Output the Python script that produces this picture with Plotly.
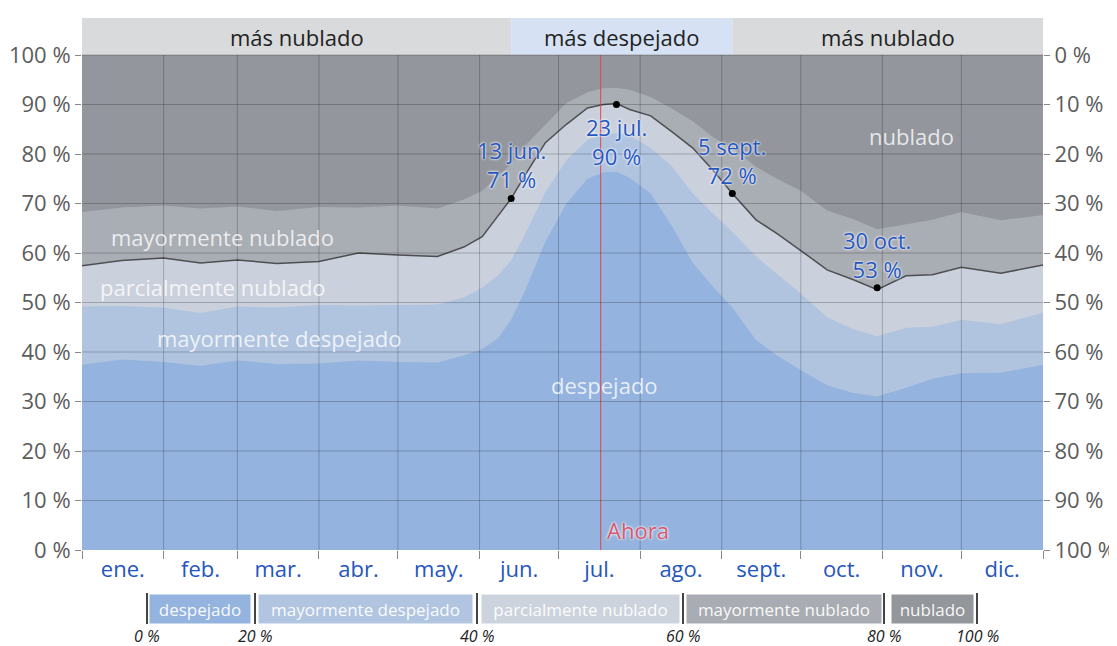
import plotly.graph_objects as go

# ---------------- data ----------------
days = [0, 15, 31, 45, 59, 74, 90, 105, 120, 135, 145, 152, 158, 163, 168, 176, 184, 192, 198, 203,
        208, 216, 224, 232, 240, 247, 256, 264, 273, 283, 293, 302, 313, 323, 334, 349, 365]

# cumulative percentages (from the bottom)
clear_top = [37.4, 38.5, 38.0, 37.2, 38.3, 37.6, 37.7, 38.3, 38.0, 37.9, 39.3, 40.6, 42.8, 46.5, 52.0, 62.3,
             70.0, 75.0, 76.3, 76.4, 75.2, 72.0, 65.5, 58.0, 53.0, 49.0, 42.4, 39.3, 36.3, 33.3, 31.7, 31.0,
             32.8, 34.6, 35.7, 35.8, 37.4]
mostly_clear_top = [49.2, 49.3, 49.0, 47.9, 49.2, 49.0, 49.5, 49.4, 49.5, 49.6, 51.0, 53.0, 55.5, 58.5, 63.5,
                    72.3, 78.8, 82.9, 84.0, 84.2, 83.8, 81.2, 77.6, 72.0, 67.8, 64.3, 59.3, 55.7, 51.8, 47.0,
                    44.6, 43.2, 44.9, 45.1, 46.5, 45.6, 48.0]
partly_cloudy_top = [57.4, 58.5, 59.0, 58.0, 58.6, 57.9, 58.3, 60.0, 59.6, 59.3, 61.2, 63.3, 67.5, 71.0, 75.5,
                     82.3, 86.0, 89.3, 90.0, 90.2, 89.0, 87.7, 84.5, 81.2, 76.5, 72.0, 66.7, 63.9, 60.5, 56.6,
                     54.6, 52.6, 55.4, 55.6, 57.1, 55.9, 57.6]
mostly_cloudy_top = [68.3, 69.2, 69.6, 69.0, 69.4, 68.5, 69.3, 69.2, 69.6, 69.0, 70.8, 72.6, 75.5, 78.0, 81.5,
                     86.0, 90.3, 92.5, 93.3, 93.4, 93.0, 91.5, 89.2, 86.6, 83.3, 81.2, 77.4, 75.0, 72.6, 68.6,
                     66.8, 64.8, 65.8, 66.7, 68.3, 66.6, 67.7]

month_starts = [0, 31, 59, 90, 120, 151, 181, 212, 243, 273, 304, 334, 365]
month_labels = ["ene.", "feb.", "mar.", "abr.", "may.", "jun.", "jul.", "ago.", "sept.", "oct.", "nov.", "dic."]

extreme_days = [163, 203, 247, 302]
extreme_vals = [71, 90, 72, 53]
extreme_labels = ["13 jun.", "23 jul.", "5 sept.", "30 oct."]

now_day = 197
clearer_season = [163, 247]

y_ticks = [0, 10, 20, 30, 40, 50, 60, 70, 80, 90, 100]
legend_names = ["despejado", "mayormente despejado", "parcialmente nublado", "mayormente nublado", "nublado"]
legend_pcts = ["0 %", "20 %", "40 %", "60 %", "80 %", "100 %"]

# ---------------- styles ----------------
FONT = "Open Sans"
FS = 22
C_OVERCAST = "#93969c"
C_MOSTLY_CLOUDY = "#a9adb4"
C_PARTLY = "#cbd1dc"
C_MOSTLY_CLEAR = "#b0c4e0"
C_CLEAR = "#94b3de"
BLUE_TXT = "#2456c0"
GLOW = "0px 0px 3px rgba(255,255,255,0.95), 0px 0px 2px rgba(255,255,255,0.95)"

# page has an 8px body margin; layout below is expressed so the plot lands
# at the reference pixel positions
PAGE_OFF = 8
PLOT_L, PLOT_R, PLOT_T, PLOT_B = 82, 1043, 55, 550

fig = go.Figure()

for vals, col in [(mostly_cloudy_top, C_MOSTLY_CLOUDY), (partly_cloudy_top, C_PARTLY),
                  (mostly_clear_top, C_MOSTLY_CLEAR), (clear_top, C_CLEAR)]:
    fig.add_trace(go.Scatter(x=days, y=vals, mode="lines", line=dict(width=0, color=col),
                             fill="tozeroy", fillcolor=col, hoverinfo="skip", showlegend=False))

fig.add_trace(go.Scatter(x=days, y=partly_cloudy_top, mode="lines",
                         line=dict(color="#4d4f53", width=1.5), showlegend=False))

fig.add_trace(go.Scatter(x=[now_day, now_day], y=[0, 100], mode="lines",
                         line=dict(color="#e0454f", width=1), showlegend=False))

fig.add_trace(go.Scatter(x=extreme_days, y=extreme_vals, mode="markers",
                         marker=dict(color="black", size=7), showlegend=False))

# invisible trace for right axis
fig.add_trace(go.Scatter(x=[0], y=[0], yaxis="y2", mode="markers",
                         marker=dict(opacity=0), showlegend=False, hoverinfo="skip"))

# grid lines drawn above the fills
shapes = []
for m in month_starts[1:-1]:
    shapes.append(dict(type="line", xref="x", yref="paper", x0=m, x1=m, y0=0, y1=1,
                       line=dict(color="rgba(0,0,0,0.22)", width=1), layer="above"))
for t in y_ticks[1:-1]:
    shapes.append(dict(type="line", xref="paper", yref="y", x0=0, x1=1, y0=t, y1=t,
                       line=dict(color="rgba(0,0,0,0.22)", width=1), layer="above"))
shapes.append(dict(type="line", xref="paper", yref="paper", x0=0, x1=1, y0=1, y1=1,
                   line=dict(color="rgba(0,0,0,0.25)", width=1), layer="above"))

# top band
band_top = 1 + 37 / 495
segments = [(month_starts[0], clearer_season[0], "#d9dadc", "más nublado"),
            (clearer_season[0], clearer_season[1], "#d6e2f3", "más despejado"),
            (clearer_season[1], month_starts[-1], "#d9dadc", "más nublado")]
annotations = []
for x0, x1, col, txt in segments:
    shapes.append(dict(type="rect", xref="x", yref="paper", x0=x0, x1=x1, y0=1, y1=band_top,
                       fillcolor=col, line=dict(width=0), layer="below"))
    annotations.append(dict(x=(x0 + x1) / 2, y=(1 + band_top) / 2, xref="x", yref="paper",
                            xanchor="center", yanchor="middle",
                            text=txt, showarrow=False, font=dict(family=FONT, size=FS, color="#222")))

# extreme annotations
offsets = [("bottom", 3), ("top", -5), ("bottom", 2), ("bottom", 2)]
for d, v, lab, (anc, ys) in zip(extreme_days, extreme_vals, extreme_labels, offsets):
    annotations.append(dict(x=d, y=v, xref="x", yref="y", text=f"{lab}<br>{v} %", showarrow=False,
                            xanchor="center", yanchor=anc, yshift=ys,
                            font=dict(family=FONT, size=FS, color=BLUE_TXT, shadow=GLOW)))

# area labels
area_labels = [("nublado", 315, 83.6), ("mayormente nublado", 53.2, 63.2),
               ("parcialmente nublado", 49.8, 53.1), ("mayormente despejado", 75.2, 42.8),
               ("despejado", 198.6, 33.3)]
for txt, ax, ay in area_labels:
    annotations.append(dict(x=ax, y=ay, xref="x", yref="y", text=txt, showarrow=False,
                            xanchor="center", yanchor="middle",
                            font=dict(family=FONT, size=FS, color="rgba(255,255,255,0.78)")))

annotations.append(dict(x=now_day, y=0, xref="x", yref="y", text="Ahora", showarrow=False,
                        xanchor="left", yanchor="bottom", xshift=4, yshift=3,
                        font=dict(family=FONT, size=FS, color="#d8566a", shadow=GLOW)))

# bottom legend
def px2paper_x(px):
    return (px - PLOT_L) / (PLOT_R - PLOT_L)

def px2paper_y(py):
    return (PLOT_B - py) / (PLOT_B - PLOT_T)

sep_px = [147, 255, 477, 683, 884, 977]
box_px = [(150, 250), (259, 472), (482, 679), (687, 881), (892, 973)]
box_cols = [C_CLEAR, "#b1c5e1", "#cdd3dd", "#a9acb2", "#93969a"]
for sx in sep_px:
    shapes.append(dict(type="line", xref="paper", yref="paper", x0=px2paper_x(sx), x1=px2paper_x(sx),
                       y0=px2paper_y(593), y1=px2paper_y(624), line=dict(color="#444", width=2)))
for (b0, b1), col, name in zip(box_px, box_cols, legend_names):
    annotations.append(dict(x=px2paper_x((b0 + b1) / 2), y=px2paper_y(609), xref="paper", yref="paper",
                            xanchor="center", yanchor="middle",
                            text=name, showarrow=False, bgcolor=col, width=b1 - b0 - 4, height=24,
                            borderpad=2, font=dict(family=FONT, size=17, color="rgba(255,255,255,0.95)")))
for sx, lab in zip(sep_px, legend_pcts):
    annotations.append(dict(x=px2paper_x(sx), y=px2paper_y(636), xref="paper", yref="paper",
                            xanchor="center", yanchor="middle",
                            text=lab, showarrow=False,
                            font=dict(family=FONT, size=16, color="#222", style="italic")))

month_mids = [(a + b) / 2 for a, b in zip(month_starts[:-1], month_starts[1:])]

W, H = 1117 - PAGE_OFF, 646 - PAGE_OFF
fig.update_layout(
    width=W, height=H, autosize=False,
    margin=dict(l=PLOT_L - PAGE_OFF, r=1117 - PLOT_R, t=PLOT_T - PAGE_OFF, b=646 - PLOT_B, autoexpand=False),
    paper_bgcolor="white", plot_bgcolor=C_OVERCAST,
    shapes=shapes, annotations=annotations,
    xaxis=dict(range=[month_starts[0], month_starts[-1]], tickmode="array", tickvals=month_mids,
               ticktext=month_labels, showgrid=False, zeroline=False, ticks="", automargin=False,
               tickfont=dict(family=FONT, size=FS, color=BLUE_TXT), ticklabelstandoff=4,
               minor=dict(tickmode="array", tickvals=month_starts, ticks="outside", ticklen=8,
                          tickcolor="#888", showgrid=False),
               fixedrange=True),
    yaxis=dict(range=[0, 100], tickmode="array", tickvals=y_ticks, automargin=False,
               ticktext=[f"{t} %" for t in y_ticks], showgrid=False, zeroline=False,
               ticks="outside", ticklen=6, tickcolor="#888",
               tickfont=dict(family=FONT, size=FS, color="#5c5c5c")),
    yaxis2=dict(range=[100, 0], overlaying="y", side="right", tickmode="array", tickvals=y_ticks,
                ticktext=[f"{t} %" for t in y_ticks], showgrid=False, zeroline=False, automargin=False,
                ticks="outside", ticklen=6, tickcolor="#888",
                tickfont=dict(family=FONT, size=FS, color="#5c5c5c")),
    showlegend=False,
)

fig.write_html("out.html")
